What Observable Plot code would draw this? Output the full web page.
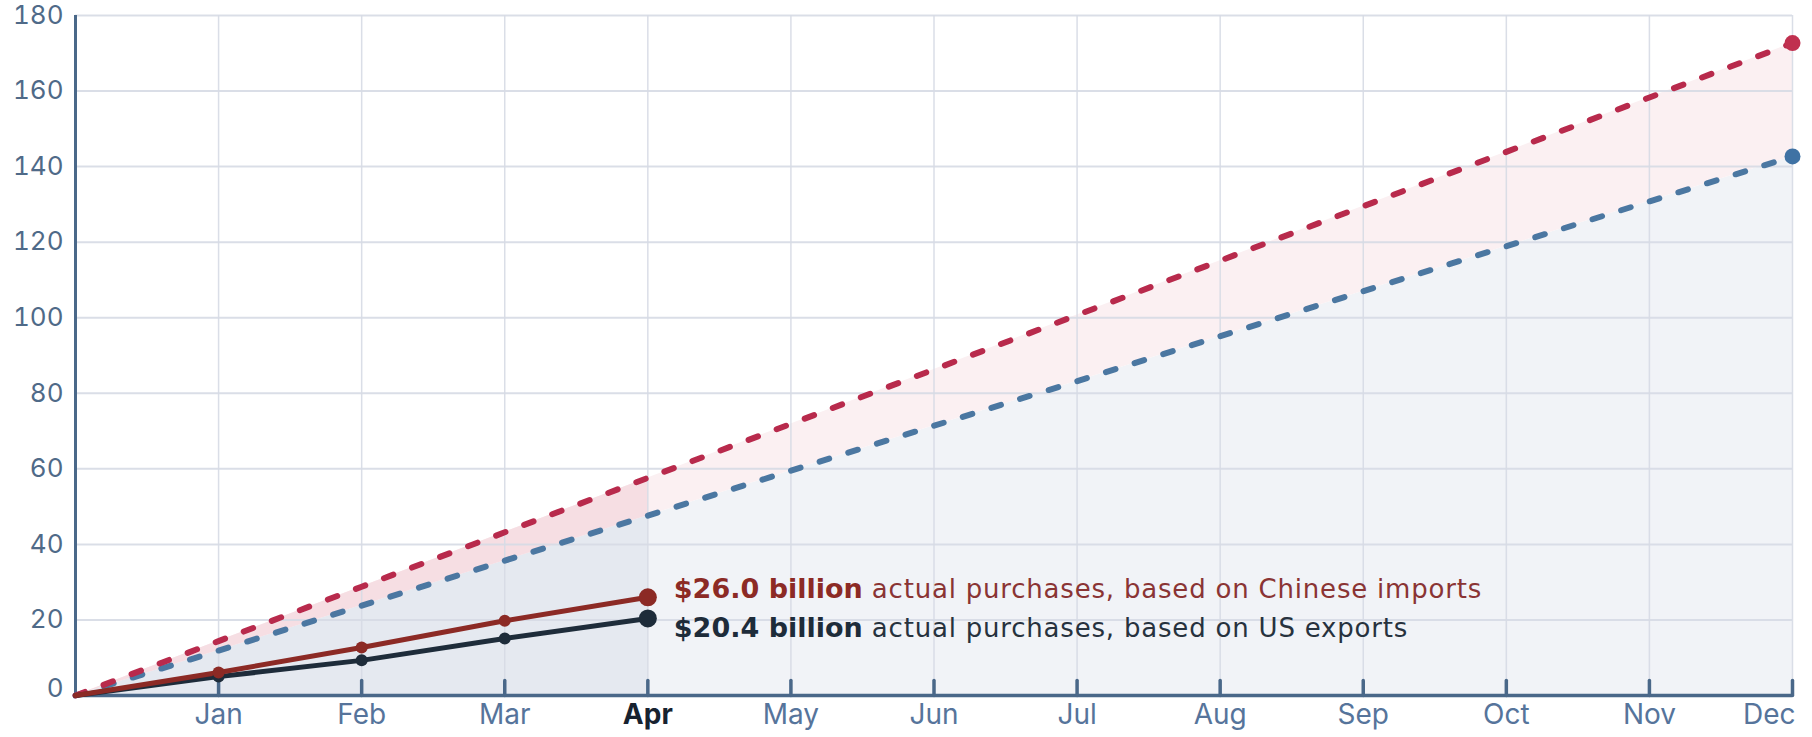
<!DOCTYPE html>
<html>
<head>
<meta charset="utf-8">
<script src="https://cdn.jsdelivr.net/npm/d3@7"></script>
<script src="https://cdn.jsdelivr.net/npm/@observablehq/plot@0.6"></script>
<style>
  html, body { margin: 0; padding: 0; background: #ffffff; }
  #chart svg { display: block; }
</style>
</head>
<body>
<div id="chart"></div>
<script>
// ---- Data ----
const monthLabels = ["Jan", "Feb", "Mar", "Apr", "May", "Jun", "Jul", "Aug", "Sep", "Oct", "Nov", "Dec"];
const monthNumbers = [1, 2, 3, 4, 5, 6, 7, 8, 9, 10, 11, 12];
const yTicks = [0, 20, 40, 60, 80, 100, 120, 140, 160, 180];

// Cumulative 2020 targets (US$ billions)
const targetMonths = [0, 1, 2, 3, 4, 5, 6, 7, 8, 9, 10, 11, 12];
const targetImports = [0, 14.4, 28.8, 43.2, 57.6, 71.9, 86.3, 100.7, 115.1, 129.5, 143.9, 158.3, 172.7];
const targetExports = [0, 11.9, 23.8, 35.7, 47.6, 59.5, 71.4, 83.2, 95.1, 107.0, 118.9, 130.8, 142.7];

// Cumulative actual purchases (US$ billions)
const actualMonths = [0, 1, 2, 3, 4];
const actualImports = [0, 6.1, 12.7, 19.8, 26.0];
const actualExports = [0, 5.0, 9.3, 15.1, 20.4];

const annotationBold = ["$26.0 billion", "$20.4 billion"];
const annotationRest = [" actual purchases, based on Chinese imports", " actual purchases, based on US exports"];
const currentMonth = 4;

// ---- Tables built from the arrays ----
const targets = targetMonths.map((m, i) => ({m, imp: targetImports[i], exp: targetExports[i]}));
const elapsed = targets.filter(d => d.m <= currentMonth);
const actual = actualMonths.map((m, i) => ({m, imp: actualImports[i], exp: actualExports[i]}));
const actualInner = actual.filter(d => d.m > 0 && d.m < currentMonth);
const actualLast = actual.filter(d => d.m === currentMonth);
const targetLast = targets.slice(-1);
const months = monthLabels.map((label, i) => ({label, m: monthNumbers[i]}));
const lastMonth = monthNumbers[monthNumbers.length - 1];

const tickShape = {draw(context, l) { context.moveTo(0, 0); context.lineTo(0, -l); }};

const red = "#8c2a25", dark = "#1e2c3a";
const slate = "#4a6889";
const monthColor = "#56749b";
const annFont = "'DejaVu Sans', Verdana, sans-serif";

const chart = Plot.plot({
  width: 1812,
  height: 737,
  marginLeft: 75,
  marginRight: 20,
  marginTop: 15,
  marginBottom: 42,
  x: {domain: [0, 12], axis: null},
  y: {domain: [0, 180]},
  style: {fontFamily: "Inter, 'Noto Sans', sans-serif", background: "#ffffff", overflow: "visible"},
  marks: [
    Plot.areaY(targets, {x: "m", y: "exp", fill: "#f1f3f7"}),
    Plot.areaY(targets, {x: "m", y1: "exp", y2: "imp", fill: "#fbf0f2"}),
    Plot.areaY(elapsed, {x: "m", y: "exp", fill: "#e5e9f0"}),
    Plot.areaY(elapsed, {x: "m", y1: "exp", y2: "imp", fill: "#f6dee3"}),
    Plot.gridX(monthNumbers, {stroke: "#d6dae4", strokeOpacity: 0.9, strokeWidth: 1.5}),
    Plot.gridY(yTicks.filter(d => d > 0), {stroke: "#d6dae4", strokeOpacity: 0.9, strokeWidth: 2}),
    Plot.axisY(yTicks.filter(d => d > 0), {anchor: "left", tickSize: 0, tickPadding: 12, fontSize: 26, color: "#4f6a88", label: null}),
    Plot.axisY(yTicks.filter(d => d === 0), {anchor: "left", tickSize: 0, tickPadding: 12, fontSize: 26, color: "#4f6a88", label: null, dy: -7}),
    Plot.ruleX([0], {stroke: slate, strokeWidth: 3}),
    Plot.ruleY([0], {stroke: slate, strokeWidth: 3.5}),
    Plot.vector(monthNumbers, {x: d => d, y: 0, length: 15, rotate: 0, anchor: "start", shape: tickShape, stroke: slate, strokeWidth: 3.5}),
    Plot.text(months.filter(d => d.m !== currentMonth && d.m !== lastMonth), {x: "m", text: "label", frameAnchor: "bottom", dy: 28, fontSize: 28, fill: monthColor}),
    Plot.text(months.filter(d => d.m === lastMonth), {x: "m", text: "label", frameAnchor: "bottom", dy: 28, dx: 3, textAnchor: "end", fontSize: 28, fill: monthColor}),
    Plot.text(months.filter(d => d.m === currentMonth), {x: "m", text: "label", frameAnchor: "bottom", dy: 28, fontSize: 28, fontWeight: 700, fill: "#172230"}),
    Plot.line(targets, {x: "m", y: "exp", stroke: "#4b77a1", strokeWidth: 6, strokeDasharray: "10,20", strokeLinecap: "round"}),
    Plot.line(targets, {x: "m", y: "imp", stroke: "#b82a4c", strokeWidth: 6, strokeDasharray: "10,20", strokeLinecap: "round"}),
    Plot.dot(targetLast, {x: "m", y: "exp", r: 8, fill: "#3f72a4"}),
    Plot.dot(targetLast, {x: "m", y: "imp", r: 8, fill: "#c0304f"}),
    Plot.line(actual, {x: "m", y: "exp", stroke: dark, strokeWidth: 5}),
    Plot.line(actual, {x: "m", y: "imp", stroke: red, strokeWidth: 5}),
    Plot.dot(actualInner, {x: "m", y: "exp", r: 6, fill: dark}),
    Plot.dot(actualInner, {x: "m", y: "imp", r: 6, fill: red}),
    Plot.dot(actualLast, {x: "m", y: "exp", r: 9, fill: dark}),
    Plot.dot(actualLast, {x: "m", y: "imp", r: 9, fill: red}),
    Plot.text(actualLast, {x: "m", y: "imp", text: () => annotationBold[0], dx: 26, dy: -8, textAnchor: "start", fontSize: 27, fontWeight: 700, fontFamily: annFont, fill: red}),
    Plot.text(actualLast, {x: "m", y: "exp", text: () => annotationBold[1], dx: 26, dy: 10, textAnchor: "start", fontSize: 27, fontWeight: 700, fontFamily: annFont, fill: dark})
  ]
});

const restColors = ["#8a3434", "#27323e"];
d3.select(chart).selectAll("text").each(function() {
  const k = annotationBold.indexOf(this.textContent);
  if (k >= 0) {
    d3.select(this).append("tspan")
      .attr("font-weight", 400)
      .attr("font-size", 26)
      .attr("letter-spacing", 0.8)
      .attr("fill", restColors[k])
      .text(annotationRest[k]);
  }
});

document.getElementById("chart").append(chart);
</script>
</body>
</html>
